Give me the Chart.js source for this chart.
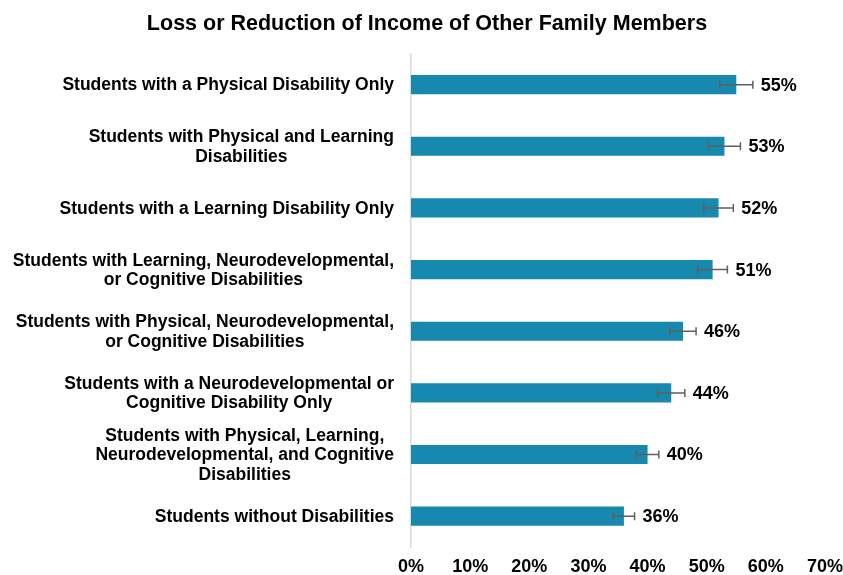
<!DOCTYPE html>
<html>
<head>
<meta charset="utf-8">
<script src="https://cdn.jsdelivr.net/npm/chart.js@4"></script>
<style>
  html, body { margin: 0; padding: 0; background: #fff; }
  #wrap { width: 843px; height: 575px; position: relative; }
</style>
</head>
<body>
<div id="wrap"><canvas id="incomeChart"></canvas></div>
<script>
const categories = [
    'Students with a Physical Disability Only',
    ['Students with Physical and Learning', 'Disabilities'],
    'Students with a Learning Disability Only',
    ['Students with Learning, Neurodevelopmental,', 'or Cognitive Disabilities'],
    ['Students with Physical, Neurodevelopmental,', 'or Cognitive Disabilities'],
    ['Students with a Neurodevelopmental or', 'Cognitive Disability Only'],
    ['Students with Physical, Learning,', 'Neurodevelopmental, and Cognitive', 'Disabilities'],
    'Students without Disabilities'
];
const percentValues = [55, 53, 52, 51, 46, 44, 40, 36];
const errorMargins = [2.8, 2.7, 2.5, 2.5, 2.2, 2.3, 1.9, 1.8];
const xTicks = [0, 10, 20, 30, 40, 50, 60, 70];

const FONT = '"Liberation Sans", Arial, sans-serif';

// error bars, value labels and category labels
const annotatePlugin = {
    id: 'annotate',
    afterDatasetsDraw(chart) {
        const ctx = chart.ctx;
        const x = chart.scales.x;
        const y = chart.scales.y;
        ctx.save();
        percentValues.forEach(function(v, i) {
            const cy = y.getPixelForValue(i);
            const lo = x.getPixelForValue(v - errorMargins[i]);
            const hi = x.getPixelForValue(v + errorMargins[i]);
            ctx.strokeStyle = '#5f5f5f';
            ctx.lineWidth = 1.5;
            ctx.beginPath();
            ctx.moveTo(lo, cy); ctx.lineTo(hi, cy);
            ctx.moveTo(lo, cy - 4); ctx.lineTo(lo, cy + 4);
            ctx.moveTo(hi, cy - 4); ctx.lineTo(hi, cy + 4);
            ctx.stroke();

            ctx.fillStyle = '#000';
            ctx.font = 'bold 18px ' + FONT;
            ctx.textAlign = 'left';
            ctx.textBaseline = 'middle';
            ctx.fillText(v + '%', hi + 8, cy + 1);
        });

        // category labels: each block right aligned, lines centred in it
        ctx.font = 'bold 17.5px ' + FONT;
        ctx.fillStyle = '#000';
        ctx.textAlign = 'center';
        ctx.textBaseline = 'middle';
        const lineH = 19.5;
        categories.forEach(function(label, i) {
            const lines = Array.isArray(label) ? label : [label];
            const widest = Math.max.apply(null, lines.map(function(l) { return ctx.measureText(l).width; }));
            const cx = y.left + y.width - 17 - widest / 2;
            const cy = y.getPixelForValue(i);
            lines.forEach(function(l, k) {
                ctx.fillText(l, cx, cy + 1 + (k - (lines.length - 1) / 2) * lineH);
            });
        });
        ctx.restore();
    }
};

document.addEventListener('DOMContentLoaded', function() {
    const canvas = document.getElementById('incomeChart');
    new Chart(canvas.getContext('2d'), {
        type: 'bar',
        data: {
            labels: categories,
            datasets: [{
                data: percentValues,
                backgroundColor: '#1889ae',
                borderWidth: 0,
                barPercentage: 0.62,
                categoryPercentage: 0.5
            }]
        },
        options: {
            indexAxis: 'y',
            responsive: true,
            maintainAspectRatio: false,
            animation: false,
            layout: { padding: { left: 11, right: 0, top: 0, bottom: 0 } },
            plugins: {
                legend: { display: false },
                tooltip: { enabled: false },
                title: {
                    display: true,
                    text: 'Loss or Reduction of Income of Other Family Members',
                    color: '#000',
                    font: { family: FONT, size: 21.5, weight: 'bold' },
                    padding: { top: 11, bottom: 17 }
                }
            },
            scales: {
                x: {
                    min: 0,
                    max: 70,
                    afterBuildTicks(scale) {
                        scale.ticks = xTicks.map(function(v) { return { value: v }; });
                    },
                    grid: { display: false, drawTicks: false },
                    border: { display: false },
                    ticks: {
                        color: '#000',
                        font: { family: FONT, size: 18, weight: 'bold' },
                        padding: 9,
                        maxRotation: 0,
                        callback: function(v) { return v + '%'; }
                    },
                    afterFit(scale) {
                        scale.height = 28;
                        scale.paddingRight = 18;
                        scale.paddingLeft = 0;
                    }
                },
                y: {
                    grid: { display: false },
                    border: { display: true, color: '#d9d9d9', width: 1.5 },
                    ticks: { display: false },
                    afterFit(scale) { scale.width = 400; }
                }
            }
        },
        plugins: [annotatePlugin]
    });
});
</script>
</body>
</html>
